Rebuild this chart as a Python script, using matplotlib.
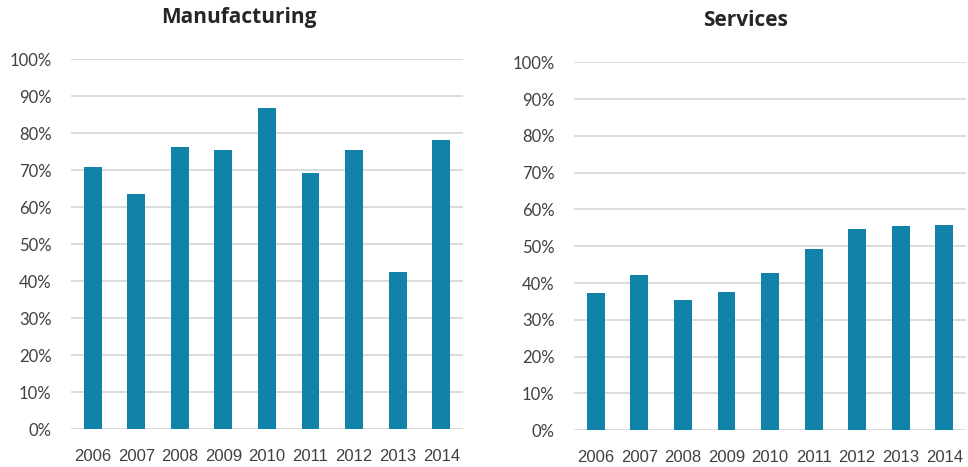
import matplotlib
matplotlib.use("Agg")
import matplotlib.pyplot as plt
from matplotlib.ticker import PercentFormatter

# Data
years = ["2006", "2007", "2008", "2009", "2010", "2011", "2012", "2013", "2014"]
manufacturing = [0.710, 0.636, 0.764, 0.756, 0.869, 0.693, 0.754, 0.426, 0.781]
services = [0.372, 0.422, 0.355, 0.375, 0.428, 0.493, 0.546, 0.555, 0.558]

bar_color = "#1283A8"
grid_color = "#D9D9D9"
text_color = "#404040"

fig = plt.figure(figsize=(9.68, 4.67), dpi=100)
ax1 = fig.add_axes([0.0733, 0.0807, 0.405, 0.792])
ax2 = fig.add_axes([0.593, 0.0786, 0.405, 0.788])

for ax, vals in [(ax1, manufacturing), (ax2, services)]:
    ax.bar(years, vals, width=0.41, color=bar_color, zorder=3)
    ax.set_ylim(0, 1.0)
    ax.set_xlim(-0.5, len(years) - 0.5)
    ax.set_yticks([i / 10 for i in range(11)])
    ax.yaxis.set_major_formatter(PercentFormatter(1.0, decimals=0))
    ax.grid(axis="y", color=grid_color, linewidth=1.3, zorder=0)
    ax.set_axisbelow(True)
    for s in ax.spines.values():
        s.set_visible(False)
    ax.tick_params(length=0)
    ax.tick_params(axis="y", pad=14, labelsize=12, labelcolor=text_color)
    ax.tick_params(axis="x", pad=14, labelsize=12, labelcolor=text_color)
    for lab in ax.get_yticklabels():
        lab.set_fontfamily(["Lato", "DejaVu Sans"])
    for lab in ax.get_xticklabels():
        lab.set_fontfamily(["Liberation Sans Narrow", "Liberation Sans", "DejaVu Sans"])

# panel titles
title_kw = dict(fontsize=15, fontweight="bold", color="#262626",
                family=["Open Sans", "DejaVu Sans"], ha="center", va="center")
fig.text(239 / 968, 1 - 17 / 467, "Manufacturing", **title_kw)
fig.text(745 / 968, 1 - 20 / 467, "Services", **title_kw)

fig.savefig("out.png", dpi=100)
